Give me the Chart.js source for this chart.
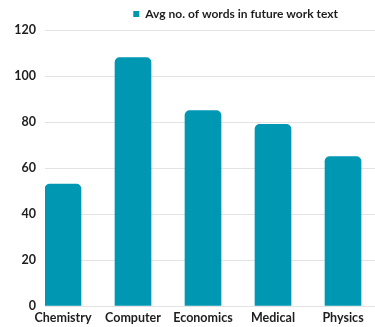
<!DOCTYPE html>
<html>
<head>
<meta charset="utf-8">
<script src="https://cdn.jsdelivr.net/npm/chart.js@4"></script>
<style>
  html, body { margin: 0; padding: 0; background: #fff; }
  #wrap { width: 375px; height: 327px; }
</style>
</head>
<body>
<div id="wrap"><canvas id="words"></canvas></div>
<script>
const categories = ['Chemistry', 'Computer', 'Economics', 'Medical', 'Physics'];
const avgWords = [53, 108, 85, 79, 65];
const yTicks = [0, 20, 40, 60, 80, 100, 120];

const teal = '#0097b2';
const ink = '#1e1e1e';

// push the legend a bit left of the canvas edge, like the original
const legendShift = {
  id: 'legendShift',
  afterLayout(chart) {
    chart.legend.right -= 29;
  }
};

new Chart(document.getElementById('words'), {
  type: 'bar',
  data: {
    datasets: [{
      label: 'Avg no. of words in future work text',
      data: categories.map((c, i) => ({ x: i, y: avgWords[i] })),
      backgroundColor: teal,
      borderRadius: 5,
      borderSkipped: 'start',
      barThickness: 36
    }]
  },
  options: {
    animation: false,
    responsive: true,
    maintainAspectRatio: false,
    layout: { padding: 0 },
    plugins: {
      legend: {
        position: 'top',
        align: 'end',
        labels: {
          boxWidth: 6,
          boxHeight: 6,
          padding: 8,
          color: ink,
          font: { family: 'Lato', size: 12, weight: 'bold' }
        }
      },
      tooltip: { enabled: false }
    },
    scales: {
      x: {
        type: 'linear',
        offset: false,
        min: -0.257,
        max: 4.457,
        afterFit: s => { s.height = 21; },
        grid: { display: false, drawTicks: false },
        border: { display: false },
        ticks: {
          stepSize: 1,
          includeBounds: false,
          autoSkip: false,
          maxRotation: 0,
          padding: 4,
          color: ink,
          font: { family: 'Lato', size: 12.5, weight: 'bold' },
          callback: v => categories[v] ?? ''
        }
      },
      y: {
        min: yTicks[0],
        max: yTicks[yTicks.length - 1],
        afterFit: s => { s.width = 45; },
        grid: { color: '#e3e3e3', drawTicks: false },
        border: { display: false },
        ticks: {
          stepSize: 20,
          padding: 9,
          color: ink,
          font: { family: 'Lato', size: 12.5, weight: 'bold' }
        }
      }
    }
  },
  plugins: [legendShift]
});
</script>
</body>
</html>
